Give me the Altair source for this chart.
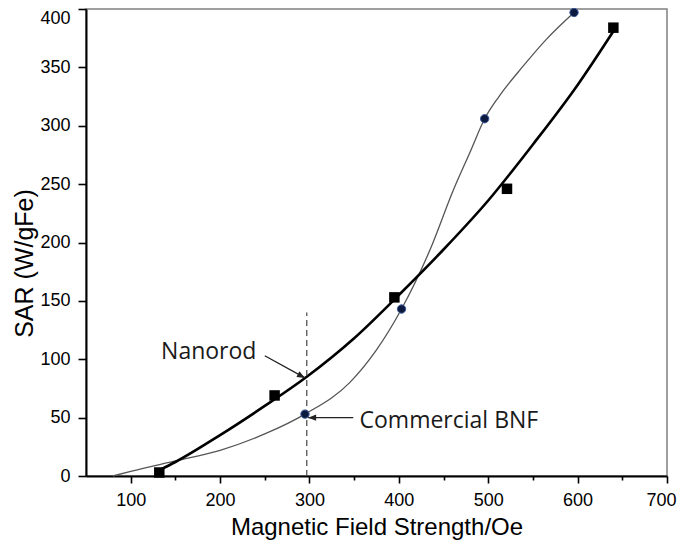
import altair as alt
import pandas as pd

# Measured points
nanorod_x = [132, 261, 395, 521, 640]
nanorod_y = [3, 69, 153, 246, 384]
bnf_x = [295, 403, 496, 596]
bnf_y = [53, 143, 306, 397]

# Fitted curves
nanorod_fit_x = [132, 150, 200, 250, 297, 350, 400, 450, 500, 550, 600, 640]
nanorod_fit_y = [5, 12, 35, 60, 85, 118, 155, 194, 236, 284, 335, 381]
bnf_fit_x = [80, 100, 150, 200, 250, 295, 345, 375, 403, 435, 461, 480, 496, 512, 539, 565, 596]
bnf_fit_y = [0, 4, 13, 22, 36, 53, 80, 108, 143, 194, 245, 278, 306, 325, 351, 374, 397]

# Reference line at the chosen field
ref_x = [297]
ref_y_top = [140]

# Annotations
ann_text = ["Nanorod", "Commercial BNF"]
ann_x = [134, 356]
ann_y = [100, 41]
arrow_x = [250, 349]
arrow_y = [103, 50]
arrow_x2 = [295, 298.5]
arrow_y2 = [84, 50]
arrow_angle = [28, 180]

# Axis ticks
x_major = [100, 200, 300, 400, 500, 600, 700]
x_minor = [150, 250, 350, 450, 550, 650]
y_ticks = [0, 50, 100, 150, 200, 250, 300, 350, 400]

XD = [50, 700]
YD = [0, 400]
xs = alt.Scale(domain=XD, nice=False, zero=False)
ys = alt.Scale(domain=YD, nice=False)

pts_n = pd.DataFrame({"x": nanorod_x, "y": nanorod_y})
pts_b = pd.DataFrame({"x": bnf_x, "y": bnf_y})
fit_n = pd.DataFrame({"x": nanorod_fit_x, "y": nanorod_fit_y})
fit_b = pd.DataFrame({"x": bnf_fit_x, "y": bnf_fit_y})
ref = pd.DataFrame({"x": ref_x, "y": [0], "y2": ref_y_top})
ann = pd.DataFrame({"t": ann_text, "x": ann_x, "y": ann_y})
arr = pd.DataFrame({"x": arrow_x, "y": arrow_y, "x2": arrow_x2, "y2": arrow_y2, "a": arrow_angle})

FONT = "Liberation Sans"

main_x_axis = alt.Axis(
    values=x_major, title="Magnetic Field Strength/Oe", orient="bottom",
    titleFont=FONT, titleFontSize=24, titleFontWeight="normal", titleColor="black",
    titleY=58.5, titleBaseline="alphabetic",
    labelFont=FONT, labelFontSize=18, labelColor="black", labelPadding=8,
    labelFlush=True, labelFlushOffset=9,
    tickSize=7, tickWidth=1.6, tickColor="black",
    domainColor="black", domainWidth=2, grid=False,
)
minor_x_axis = alt.Axis(
    values=x_minor, title=None, orient="bottom", labels=False, domain=False,
    tickSize=4, tickWidth=1.6, tickColor="black", grid=False,
)
y_axis = alt.Axis(
    values=y_ticks, title="SAR (W/gFe)",
    titleFont=FONT, titleFontSize=25, titleFontWeight="normal", titleColor="black",
    titleX=-54, titleY=254, titleBaseline="alphabetic", titleAngle=270,
    labelFont=FONT, labelFontSize=18, labelColor="black", labelPadding=8,
    labelBaseline={"condition": {"test": "datum.value == 400", "value": "top"}, "value": "middle"},
    tickSize=8, tickWidth=1.6, tickColor="black",
    domainColor="black", domainWidth=2, grid=False,
)

def X(f="x", axis=None):
    return alt.X(f"{f}:Q", scale=xs, axis=axis)

def Y(f="y"):
    return alt.Y(f"{f}:Q", scale=ys, axis=y_axis)

base_axes = alt.Chart(pts_n).mark_point(opacity=0).encode(
    x=X(axis=main_x_axis), y=Y()
)
minor_axes = alt.Chart(pts_n).mark_point(opacity=0).encode(
    x=X(axis=minor_x_axis), y=Y()
)

line_b = alt.Chart(fit_b).mark_line(
    color="#555555", strokeWidth=1.3, interpolate="monotone"
).encode(x=X(), y=Y(), order="x:Q")
line_n = alt.Chart(fit_n).mark_line(
    color="black", strokeWidth=2.6, interpolate="monotone"
).encode(x=X(), y=Y(), order="x:Q")

ref_rule = alt.Chart(ref).mark_rule(
    color="#444444", strokeWidth=1.2, strokeDash=[6, 4]
).encode(x=X(), y=Y(), y2="y2:Q")

sq = alt.Chart(pts_n).mark_square(size=110, color="black", opacity=1).encode(x=X(), y=Y())
circ = alt.Chart(pts_b).mark_circle(
    size=70, color="#0d1a40", opacity=1, stroke="#3b5998", strokeWidth=1
).encode(x=X(), y=Y())

arrow_lines = alt.Chart(arr).mark_rule(color="#222222", strokeWidth=1.3).encode(
    x=X(), y=Y(), x2="x2:Q", y2="y2:Q"
)
arrow_heads = alt.Chart(arr).mark_point(
    shape="M0,0L-2,-0.8L-2,0.8Z", size=64, filled=True, color="#222222", opacity=1, strokeWidth=0
).encode(x=X("x2"), y=Y("y2"), angle=alt.Angle("a:Q", scale=None))

labels = alt.Chart(ann).mark_text(
    font="Open Sans", fontSize=23, color="#1a1a1a", align="left", baseline="alphabetic"
).encode(x=X(), y=Y(), text="t:N")

chart = alt.layer(
    base_axes, minor_axes, line_b, line_n, ref_rule, sq, circ, arrow_lines, arrow_heads, labels
).resolve_axis(x="independent", y="shared").properties(
    width=581, height=467,
    autosize=alt.AutoSizeParams(type="none"),
    padding={"left": 78, "top": 1, "right": 10, "bottom": 65},
    background="white",
).configure_view(stroke="#808080", strokeWidth=1.5)

chart.save("out.html", embed_options={"renderer": "svg", "actions": False})
